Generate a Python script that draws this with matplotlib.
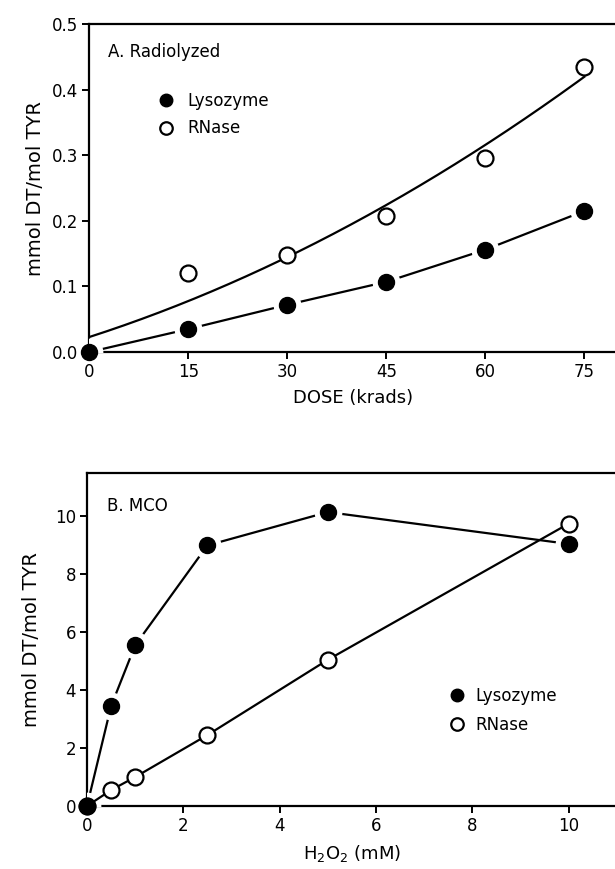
import numpy as np
import matplotlib
matplotlib.use("Agg")
import matplotlib.pyplot as plt
from matplotlib.lines import Line2D

plt.rcParams['font.family'] = ['DejaVu Sans']

# ---- Panel A: radiolyzed ----
dose = [0, 15, 30, 45, 60, 75]
lyso_a = [0.0, 0.035, 0.072, 0.107, 0.156, 0.215]
rnase_dose = [15, 30, 45, 60, 75]
rnase_a = [0.120, 0.148, 0.207, 0.296, 0.434]
# fitted curve for RNase
rnase_fit_x = [0, 15, 30, 45, 60, 75]
rnase_fit_y = [0.022, 0.080, 0.143, 0.225, 0.315, 0.420]
xticks_a = [0, 15, 30, 45, 60, 75]
yticks_a = [0.0, 0.1, 0.2, 0.3, 0.4, 0.5]

# ---- Panel B: MCO ----
h2o2 = [0, 0.5, 1, 2.5, 5, 10]
lyso_b = [0.0, 3.45, 5.55, 9.0, 10.15, 9.05]
rnase_b = [0.0, 0.55, 1.0, 2.45, 5.05, 9.75]
xticks_b = [0, 2, 4, 6, 8, 10]
yticks_b = [0, 2, 4, 6, 8, 10]

W, H = 615, 869
fig = plt.figure(figsize=(W / 100, H / 100), dpi=100)

def px_axes(x0, x1, ytop, ybot):
    return fig.add_axes([x0 / W, 1 - ybot / H, (x1 - x0) / W, (ybot - ytop) / H])

axA = px_axes(89.4, 617.4, 24, 352)
axB = px_axes(87, 616.8, 473, 806)

LW = 1.6
MS = 11.5
HALO = 20

def style(ax):
    for s in ax.spines.values():
        s.set_linewidth(1.6)
    ax.tick_params(direction='out', length=5, width=1.4, labelsize=12, pad=3)

# Panel A
ax = axA
ax.plot(dose, lyso_a, '-', color='black', lw=LW, zorder=2)
ax.plot(dose, lyso_a, 'o', color='white', ms=HALO, mec='none', zorder=3)
ax.plot(dose, lyso_a, 'o', color='black', ms=MS, zorder=4, clip_on=False)
c = np.polyfit(rnase_fit_x, rnase_fit_y, 2)
xs = np.linspace(rnase_fit_x[0], rnase_fit_x[-1], 200)
ax.plot(xs, np.polyval(c, xs), '-', color='black', lw=LW, zorder=5)
ax.plot(rnase_dose, rnase_a, 'o', mfc='white', mec='black', mew=1.6, ms=MS, zorder=6)
ax.set_xlim(0, 80)
ax.set_ylim(0, 0.5)
ax.set_xticks(xticks_a)
ax.set_yticks(yticks_a)
ax.set_yticklabels([f"{v:.1f}" for v in yticks_a])
ax.set_xlabel("DOSE (krads)", fontsize=13, labelpad=6)
ax.set_ylabel("mmol DT/mol TYR", fontsize=14, labelpad=5)
ax.text(0.035, 0.915, "A. Radiolyzed", transform=ax.transAxes, fontsize=12, va='center', ha='left')
style(ax)

h1 = Line2D([], [], marker='o', color='black', ls='none', ms=9)
h2 = Line2D([], [], marker='o', mfc='white', mec='black', mew=1.6, ls='none', ms=9)
ax.legend([h1, h2], ["Lysozyme", "RNase"], loc='upper left', bbox_to_anchor=(0.13, 0.792),
          frameon=False, fontsize=12, handlelength=1.0, handletextpad=0.75,
          labelspacing=0.55, borderpad=0, borderaxespad=0)

# Panel B
ax = axB
ax.plot(h2o2, lyso_b, '-', color='black', lw=LW, zorder=2)
ax.plot(h2o2, lyso_b, 'o', color='white', ms=HALO, mec='none', zorder=3)
ax.plot(h2o2, lyso_b, 'o', color='black', ms=MS, zorder=4, clip_on=False)
ax.plot(h2o2, rnase_b, '-', color='black', lw=LW, zorder=5)
ax.plot(h2o2, rnase_b, 'o', mfc='white', mec='black', mew=1.6, ms=MS, zorder=6, clip_on=False)
ax.plot(h2o2[:1], lyso_b[:1], 'o', color='black', ms=MS, zorder=7, clip_on=False)
ax.set_xlim(0, 11)
ax.set_ylim(0, 11.5)
ax.set_xticks(xticks_b)
ax.set_yticks(yticks_b)
ax.set_xlabel("H$_2$O$_2$ (mM)", fontsize=13, labelpad=6)
ax.set_ylabel("mmol DT/mol TYR", fontsize=14, labelpad=10)
ax.text(0.038, 0.90, "B. MCO", transform=ax.transAxes, fontsize=12, va='center', ha='left')
style(ax)
ax.legend([h1, h2], ["Lysozyme", "RNase"], loc='upper left', bbox_to_anchor=(0.6825, 0.357),
          frameon=False, fontsize=12, handlelength=1.0, handletextpad=0.6,
          labelspacing=0.65, borderpad=0, borderaxespad=0)

fig.savefig("out.png", dpi=100)
